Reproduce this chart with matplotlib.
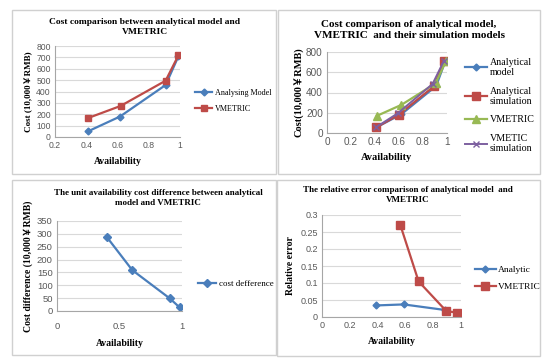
import matplotlib
matplotlib.use("Agg")
import matplotlib.pyplot as plt
from matplotlib.patches import Rectangle

# ---------------- data ----------------
# Panel 1
p1_x_model = [0.41, 0.616, 0.908, 0.99]
p1_y_model = [49, 180, 457, 710]
p1_x_vm = [0.41, 0.62, 0.908, 0.99]
p1_y_vm = [166, 273, 495, 718]

# Panel 2
p2_x_am = [0.41, 0.62, 0.91, 0.985]
p2_y_am = [55, 186, 465, 708]
p2_x_as = [0.41, 0.597, 0.89, 0.975]
p2_y_as = [55, 180, 460, 708]
p2_x_vm = [0.417, 0.62, 0.905, 0.99]
p2_y_vm = [170, 278, 490, 708]
p2_x_vs = [0.41, 0.59, 0.88, 0.975]
p2_y_vs = [58, 195, 485, 715]

# Panel 3
p3_x = [0.398, 0.602, 0.902, 0.981]
p3_y = [288, 159, 49, 14]

# Panel 4
p4_x_an = [0.39, 0.588, 0.887]
p4_y_an = [0.034, 0.037, 0.0205]
p4_x_vm = [0.564, 0.695, 0.894, 0.971]
p4_y_vm = [0.27, 0.1046, 0.0176, 0.0127]

BLUE = "#4A7EBB"
RED = "#BE4B48"
GREEN = "#98B954"
PURPLE = "#7D60A0"
SERIF = ["Liberation Serif", "Noto Sans CJK SC"]
TICKC = "#595959"

W, H = 550, 364
fig = plt.figure(figsize=(5.5, 3.64), dpi=100)


def rect(x0, x1, yt, yb):
    return [x0 / W, 1 - yb / H, (x1 - x0) / W, (yb - yt) / H]


def frame(x0, x1, yt, yb):
    fig.patches.append(Rectangle((x0 / W, 1 - yb / H), (x1 - x0) / W, (yb - yt) / H,
                                 transform=fig.transFigure, fill=False,
                                 edgecolor="#D0D0D0", linewidth=1.0))


def style(ax, tsize):
    for s in ["top", "right"]:
        ax.spines[s].set_visible(False)
    for s in ["left", "bottom"]:
        ax.spines[s].set_color("#A6A6A6")
        ax.spines[s].set_linewidth(0.8)
    ax.yaxis.grid(True, color="#D9D9D9", linewidth=0.8)
    ax.set_axisbelow(True)
    ax.tick_params(length=0, labelsize=tsize, colors=TICKC, pad=3)
    for lab in ax.get_xticklabels() + ax.get_yticklabels():
        lab.set_family(["Liberation Sans"])


frame(12, 276, 10, 174)
frame(278, 540, 10, 174)
frame(12, 276, 180, 355)
frame(277, 540, 180, 356)

# ---------- Panel 1 ----------
ax1 = fig.add_axes(rect(55, 180, 46, 137))
ax1.plot(p1_x_model, p1_y_model, color=BLUE, marker="D", markersize=3.5, lw=1.6, label="Analysing Model")
ax1.plot(p1_x_vm, p1_y_vm, color=RED, marker="s", markersize=5, lw=1.6, label="VMETRIC")
ax1.set_xlim(0.2, 1)
ax1.set_ylim(0, 800)
ax1.set_xticks([0.2, 0.4, 0.6, 0.8, 1])
ax1.set_xticklabels(["0.2", "0.4", "0.6", "0.8", "1"])
ax1.set_yticks(range(0, 801, 100))
style(ax1, 6.2)
ax1.set_xlabel("Availability", family=SERIF, fontweight="bold", fontsize=7, labelpad=5)
ax1.set_ylabel("Cost (10,000￥RMB)", family=SERIF, fontweight="bold", fontsize=6.5, labelpad=2)
fig.text(145 / W, 1 - 27 / H, "Cost comparison between analytical model and\nVMETRIC",
         ha="center", va="center", family=SERIF, fontweight="bold", fontsize=6.8, linespacing=1.2)
ax1.legend(loc="center left", bbox_to_anchor=(1.12, 0.4), frameon=False,
           prop={"family": SERIF, "size": 5.9}, handlelength=2.1, handletextpad=0.3,
           labelspacing=1.0, borderaxespad=0, borderpad=0)

# ---------- Panel 2 ----------
ax2 = fig.add_axes(rect(327, 447, 52, 133))
ax2.plot(p2_x_am, p2_y_am, color=BLUE, marker="D", markersize=3.5, lw=1.6, label="Analytical\nmodel")
ax2.plot(p2_x_as, p2_y_as, color=RED, marker="s", markersize=5.5, lw=1.6, label="Analytical\nsimulation")
ax2.plot(p2_x_vm, p2_y_vm, color=GREEN, marker="^", markersize=5.5, lw=1.6, label="VMETRIC")
ax2.plot(p2_x_vs, p2_y_vs, color=PURPLE, marker="x", markersize=4, lw=1.4, label="VMETIC\nsimulation")
ax2.set_xlim(0, 1)
ax2.set_ylim(0, 800)
ax2.set_xticks([0, 0.2, 0.4, 0.6, 0.8, 1])
ax2.set_xticklabels(["0", "0.2", "0.4", "0.6", "0.8", "1"])
ax2.set_yticks(range(0, 801, 200))
style(ax2, 7.2)
ax2.set_xlabel("Availability", family=SERIF, fontweight="bold", fontsize=7.5, labelpad=4)
ax2.set_ylabel("Cost(10,000￥RMB)", family=SERIF, fontweight="bold", fontsize=7.5, labelpad=2)
fig.text(409 / W, 1 - 30 / H, "Cost comparison of analytical model,\nVMETRIC  and their simulation models",
         ha="center", va="center", family=SERIF, fontweight="bold", fontsize=8, linespacing=1.25)
ax2.legend(loc="upper left", bbox_to_anchor=(1.15, 0.93), frameon=False,
           prop={"family": SERIF, "size": 7.2}, handlelength=2.2, labelspacing=0.95,
           handletextpad=0.3, borderaxespad=0, borderpad=0)

# ---------- Panel 3 ----------
ax3 = fig.add_axes(rect(57, 182, 221, 311))
ax3.plot(p3_x, p3_y, color=BLUE, marker="D", markersize=3.8, lw=1.6, label="cost defference")
ax3.set_xlim(0, 1)
ax3.set_ylim(0, 350)
ax3.set_xticks([0, 0.5, 1])
ax3.set_xticklabels(["0", "0.5", "1"])
ax3.set_yticks(range(0, 351, 50))
style(ax3, 6.8)
ax3.tick_params(axis="x", pad=8)
ax3.set_xlabel("Availability", family=SERIF, fontweight="bold", fontsize=7, labelpad=6)
ax3.set_ylabel("Cost difference (10,000￥RMB)", family=SERIF, fontweight="bold", fontsize=7, labelpad=3)
fig.text(158 / W, 1 - 198 / H, "The unit availability cost difference between analytical\nmodel and VMETRIC",
         ha="center", va="center", family=SERIF, fontweight="bold", fontsize=6.5, linespacing=1.3)
ax3.legend(loc="center left", bbox_to_anchor=(1.13, 0.3), frameon=False,
           prop={"family": SERIF, "size": 6.4}, handlelength=2.0, handletextpad=0.3,
           borderaxespad=0, borderpad=0)

# ---------- Panel 4 ----------
ax4 = fig.add_axes(rect(322, 461, 215, 317))
ax4.plot(p4_x_an, p4_y_an, color=BLUE, marker="D", markersize=3.5, lw=1.6, label="Analytic")
ax4.plot(p4_x_vm, p4_y_vm, color=RED, marker="s", markersize=5.5, lw=1.6, label="VMETRIC")
ax4.set_xlim(0, 1)
ax4.set_ylim(0, 0.3)
ax4.set_xticks([0, 0.2, 0.4, 0.6, 0.8, 1])
ax4.set_xticklabels(["0", "0.2", "0.4", "0.6", "0.8", "1"])
ax4.set_yticks([0, 0.05, 0.1, 0.15, 0.2, 0.25, 0.3])
ax4.set_yticklabels(["0", "0.05", "0.1", "0.15", "0.2", "0.25", "0.3"])
style(ax4, 6.5)
ax4.set_xlabel("Availability", family=SERIF, fontweight="bold", fontsize=7, labelpad=5)
ax4.set_ylabel("Relative error", family=SERIF, fontweight="bold", fontsize=7, labelpad=4)
fig.text(408 / W, 1 - 195 / H, "The relative error comparison of analytical model  and\nVMETRIC",
         ha="center", va="center", family=SERIF, fontweight="bold", fontsize=6.5, linespacing=1.2)
ax4.legend(loc="center left", bbox_to_anchor=(1.1, 0.38), frameon=False,
           prop={"family": SERIF, "size": 6.8}, handlelength=2.2, handletextpad=0.2,
           labelspacing=0.9, borderaxespad=0, borderpad=0)

fig.savefig("out.png", dpi=100)
